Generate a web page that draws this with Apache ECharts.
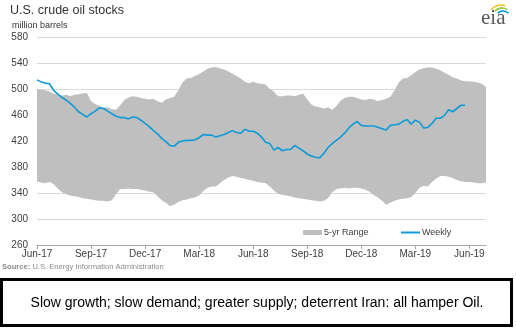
<!DOCTYPE html>
<html><head><meta charset="utf-8">
<script src="https://cdn.jsdelivr.net/npm/echarts@6/dist/echarts.min.js"></script>
<style>html,body{margin:0;padding:0;background:#fff;}#c{width:516px;height:328px;}</style>
</head><body><div id="c"></div>
<script>
// ---- data (million barrels), weekly from Jun-2017 ----
const tickLabels = ['Jun-17','Sep-17','Dec-17','Mar-18','Jun-18','Sep-18','Dec-18','Mar-19','Jun-19'];
const rangeUpper = [500,499,498,496,493,491,490,491,489,491,492,493,494,481,477,474,471,472,469,468,
  475,483,487,489,488,486,485,484,485,481,479,484,486,488,498,510,516,517,520,523,
  527,531,533,534,532,530,527,524,520,516,511,509,511,509,508,507,500,496,489,489,
  490,490,489,491,493,484,476,473,472,470,472,468,474,482,486,488,488,486,484,483,
  485,484,481,483,485,488,498,510,516,517,521,526,530,532,533,533,531,529,525,522,
  518,516,513,512,512,511,510,508,503];
const rangeLower = [358,356,355,357,354,347,341,338,336,335,334,332,331,330,329,328,328,327,329,338,
  346,346,347,346,346,345,344,342,341,335,329,325,320,322,326,329,330,332,333,336,
  343,348,350,350,355,360,364,366,365,363,362,360,359,357,356,355,350,344,339,337,
  336,335,333,332,331,330,329,328,327,328,332,341,346,347,348,347,348,348,347,345,
  342,337,333,328,322,325,328,330,331,332,334,340,348,351,350,357,362,366,366,365,
  363,360,358,357,357,356,355,355,356];
const weekly = [514,511,509,508,498,492,487,483,478,472,465,461,457,462,466,471,470,466,462,458,
  456,456,454,457,456,452,447,442,436,431,424,419,413,412,418,420,421,421,422,425,
  430,429,429,426,428,430,433,436,433,432,438,435,435,432,426,418,416,406,410,405,
  407,407,413,409,405,400,397,395,394,401,410,416,421,426,432,440,446,450,444,443,
  443,443,441,439,437,444,445,446,450,453,446,452,449,440,441,447,455,455,459,468,
  465,470,475,475];

const weeks = rangeUpper.map((_, i) => String(i));
const rangeSpan = rangeUpper.map((u, i) => u - rangeLower[i]);

const chart = echarts.init(document.getElementById('c'), null, {renderer: 'canvas'});
const FONT = 'Liberation Sans, Arial, sans-serif';
chart.setOption({
  animation: false,
  textStyle: {fontFamily: FONT},
  grid: {left: 37, right: 30, top: 37, bottom: 83, containLabel: false},
  xAxis: {
    type: 'category', data: weeks, boundaryGap: false,
    axisLine: {show: true, lineStyle: {color: '#a6a6a6', width: 1}},
    axisTick: {show: true, interval: 12, length: 4, lineStyle: {color: '#a6a6a6'}},
    axisLabel: {interval: 12, color: '#404040', fontSize: 10, margin: 4,
      formatter: (v, idx) => tickLabels[Math.round(idx / 13)] || ''},
    splitLine: {show: false}
  },
  yAxis: {
    type: 'value', min: 260, max: 580, interval: 40,
    axisLine: {show: false}, axisTick: {show: false},
    axisLabel: {color: '#404040', fontSize: 10, margin: 9},
    splitLine: {lineStyle: {color: '#d9d9d9', width: 1}}
  },
  legend: [
    {data: [{name: '5-yr Range', icon: 'rect'}], left: 298, top: 223, itemWidth: 19, itemHeight: 5, itemGap: 2,
     textStyle: {fontSize: 9, color: '#404040', padding: [0,0,0,-3]}, selectedMode: false},
    {data: [{name: 'Weekly', icon: 'rect'}], left: 396, top: 223, itemWidth: 19, itemHeight: 2,
     textStyle: {fontSize: 9, color: '#404040', padding: [0,0,0,-3]}, selectedMode: false}
  ],
  series: [
    {name: 'lower', type: 'line', stack: 'band', data: rangeLower, symbol: 'none',
     lineStyle: {opacity: 0}, areaStyle: {opacity: 0}, silent: true},
    {name: '5-yr Range', type: 'line', stack: 'band', data: rangeSpan, symbol: 'none',
     lineStyle: {opacity: 0}, itemStyle: {color: '#bfbfbf'},
     areaStyle: {color: '#bfbfbf', opacity: 1}, silent: true},
    {name: 'Weekly', type: 'line', data: weekly, symbol: 'none', z: 5,
     itemStyle: {color: '#0f9ad8'}, lineStyle: {color: '#0f9ad8', width: 1.6}}
  ],
  graphic: [
    {type: 'text', left: 10, top: 4, style: {text: 'U.S. crude oil stocks', fill: '#333', font: '12.5px ' + FONT}},
    {type: 'text', left: 12, top: 21, style: {text: 'million barrels', fill: '#333', font: '9px ' + FONT}},
    {type: 'text', left: 2, top: 263, style: {
      text: '{b|Source:} U.S. Energy Information Administration',
      font: '7.6px ' + FONT, fill: '#8c8c8c',
      rich: {b: {fontWeight: 'bold', fontSize: 7.6, fill: '#8c8c8c', fontFamily: FONT}}}},
    {type: 'text', left: 481, top: 8, style: {text: 'eia', fill: '#595959', font: '21px Liberation Serif, serif'}},
    {type: 'arc', shape: {cx: 501, cy: 17, r: 12, startAngle: -2.5, endAngle: -1.2}, style: {stroke: '#f4c21b', lineWidth: 1.6, fill: null}},
    {type: 'arc', shape: {cx: 502, cy: 18, r: 10, startAngle: -2.4, endAngle: -1.0}, style: {stroke: '#8dc63f', lineWidth: 1.6, fill: null}},
    {type: 'arc', shape: {cx: 503, cy: 19, r: 8, startAngle: -2.3, endAngle: -0.8}, style: {stroke: '#0096d7', lineWidth: 1.6, fill: null}},
    {type: 'rect', shape: {x: 1.5, y: 279.5, width: 510, height: 46}, style: {fill: '#fff', stroke: '#000', lineWidth: 3}},
    {type: 'text', x: 257, y: 303, style: {text: 'Slow growth; slow demand; greater supply; deterrent Iran: all hamper Oil.',
      font: '14px ' + FONT, fill: '#000', align: 'center', verticalAlign: 'middle'}}
  ]
});
</script></body></html>
